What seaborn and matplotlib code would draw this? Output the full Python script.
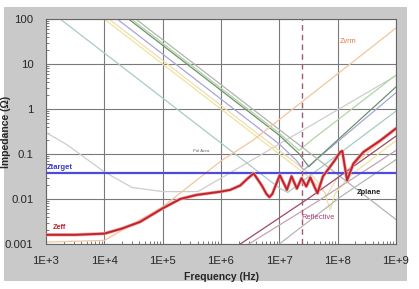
import matplotlib
matplotlib.use("Agg")
import matplotlib.pyplot as plt
import matplotlib.patches as mpatches
import seaborn as sns
import pandas as pd

# ---------------- data ----------------
zeff_f = [1e3, 3.2e3, 1e4, 2e4, 4.1e4, 1e5, 2e5, 3.8e5, 1e6, 1.45e6, 2.14e6, 2.82e6, 3.63e6,
          5.0e6, 6.0e6, 6.76e6, 7.6e6, 8.9e6, 1.02e7, 1.35e7, 1.62e7, 2.0e7, 2.4e7, 2.9e7,
          3.4e7, 4.5e7, 5.6e7, 7.4e7, 9.1e7, 1.1e8, 1.2e8, 1.45e8, 1.86e8, 2.75e8, 5.4e8, 1e9]
zeff_z = [0.0016, 0.0016, 0.0017, 0.0022, 0.0031, 0.0062, 0.010, 0.0123, 0.0146, 0.016, 0.020,
          0.028, 0.037, 0.020, 0.013, 0.011, 0.013, 0.022, 0.034, 0.016, 0.032, 0.017, 0.029,
          0.019, 0.030, 0.0134, 0.032, 0.052, 0.075, 0.11, 0.117, 0.026, 0.061, 0.11, 0.20, 0.37]

ztarget = 0.038
marker_freq = 2.4e7

zvrm_f = [1e3, 1e4, 1e5, 1e6, 3.5e6, 1e9]
zvrm_z = [0.0011, 0.0012, 0.0067, 0.07, 0.2, 63]

bulk_f = [1e3, 2.3e3, 1e4, 3e4, 1e5, 4e5, 1e6, 1e7, 1e8, 1e9]
bulk_z = [0.3, 0.16, 0.04, 0.018, 0.0146, 0.0146, 0.029, 0.167, 0.96, 5.5]

capa_f = [1.75e3, 1e7, 1.4e7, 2e7, 1e9]
capa_z = [100, 0.0175, 0.014, 0.02, 0.9]

capb_f = [1e4, 3e7, 6e7, 7.4e7, 9e7, 1.5e8, 1e9]
capb_z = [100, 0.033, 0.014, 0.0057, 0.013, 0.03, 0.2]

capc_f = [1.2e4, 4e7, 6.5e7, 1e8, 1e9]
capc_z = [100, 0.03, 0.012, 0.03, 0.35]

capd_f = [1.66e4, 1e7, 2e7, 2.6e7, 3.5e7, 1e9]
capd_z = [100, 0.166, 0.07, 0.044, 0.06, 2.3]

cape_f = [2.6e4, 1e7, 2.2e7, 3.2e7, 4.5e7, 1e9]
cape_z = [100, 0.26, 0.1, 0.052, 0.08, 3.1]

capf_f = [2.9e4, 1e7, 1.6e7, 2.2e7, 3.5e7, 1e9]
capf_z = [100, 0.29, 0.17, 0.12, 0.2, 5.7]

zplane_f = [3.46e4, 1e9]
zplane_z = [100, 0.0035]

refl_f = [2.14e6, 3.4e7, 1e9]
refl_z = [0.001, 0.011, 0.25]

refl2_f = [3e6, 4e7, 1e9]
refl2_z = [0.001, 0.008, 0.12]

low_f = [1e7, 1.1e8, 1e9]
low_z = [0.001, 0.011, 0.075]

x_ticks = [1e3, 1e4, 1e5, 1e6, 1e7, 1e8, 1e9]
x_ticklabels = ["1E+3", "1E+4", "1E+5", "1E+6", "1E+7", "1E+8", "1E+9"]
y_ticks = [0.001, 0.01, 0.1, 1, 10, 100]
y_ticklabels = ["0.001", "0.01", "0.1", "1", "10", "100"]

# ---------------- plot ----------------
sns.set_theme(style="white")
plt.rcParams['font.family'] = ['Liberation Sans', 'DejaVu Sans']

fig = plt.figure(figsize=(4.19, 2.89), dpi=100)
fig.patch.set_facecolor("white")
# gray panel behind everything
bg = fig.add_axes([0, 0, 1, 1], zorder=-5)
bg.set_axis_off()
bg.set_xlim(0, 419)
bg.set_ylim(289, 0)
bg.add_patch(mpatches.Rectangle((4, 7), 403, 274, facecolor="#c9c9c9", edgecolor="none"))

ax = fig.add_axes([46 / 419, 1 - 244 / 289, 350 / 419, 225 / 289], zorder=1)
ax.set_facecolor("white")

faint = [
    (bulk_f, bulk_z, "#cdcdcd"),
    (capa_f, capa_z, "#a9cbc5"),
    (capb_f, capb_z, "#ece49c"),
    (capc_f, capc_z, "#f0dcb4"),
    (capd_f, capd_z, "#a6a6dc"),
    (capf_f, capf_z, "#b2d6a6"),
    (cape_f, cape_z, "#6c926c"),
    (zplane_f, zplane_z, "#b3b3b3"),
    (refl2_f, refl2_z, "#c4a4b4"),
    (low_f, low_z, "#b6b6b6"),
    (refl_f, refl_z, "#9a4a68"),
    (zvrm_f, zvrm_z, "#f2c69a"),
]
for fx, fz, col in faint:
    d = pd.DataFrame({"f": fx, "z": fz})
    sns.lineplot(data=d, x="f", y="z", ax=ax, color=col, lw=0.9, estimator=None, zorder=2)

ax.axhline(ztarget, color="#4b4be0", lw=1.6, zorder=3)
ax.axvline(marker_freq, color="#a05a78", lw=1.0, ls=(0, (4, 3)), zorder=3)

dz = pd.DataFrame({"f": zeff_f, "z": zeff_z})
sns.lineplot(data=dz, x="f", y="z", ax=ax, color="#f0a0a0", lw=2.4, estimator=None, zorder=4)
sns.lineplot(data=dz, x="f", y="z", ax=ax, color="#c0242c", lw=1.4, estimator=None, zorder=5)

ax.set_xscale("log")
ax.set_yscale("log")
ax.set_xlim(1e3, 1e9)
ax.set_ylim(1e-3, 100)
ax.set_xticks(x_ticks)
ax.set_xticklabels(x_ticklabels, fontsize=8.2)
ax.set_yticks(y_ticks)
ax.set_yticklabels(y_ticklabels, fontsize=8.2)
ax.tick_params(axis="both", which="major", length=3, width=0.8, color="#555555",
               direction="out", pad=6)
ax.tick_params(axis="both", which="minor", length=2.5, width=0.6, color="#666666",
               direction="in", bottom=True, left=True)
ax.grid(True, which="major", color="#7a7a7a", lw=0.8)
ax.grid(False, which="minor")
for s in ax.spines.values():
    s.set_color("#666666")
    s.set_linewidth(0.8)

ax.set_xlabel("Frequency (Hz)", fontsize=7.5, fontweight="bold")
ax.xaxis.set_label_coords(0.5, -(272 - 244) / 225, transform=ax.transAxes)
ax.set_ylabel("Impedance (Ω)", fontsize=7.5, fontweight="bold")
ax.yaxis.set_label_coords(-(46 - 11) / 350, 0.5, transform=ax.transAxes)

# annotations
ax.text(1.05e3, ztarget * 1.1, "Ztarget", color="#3b3bc8", fontsize=5.5,
        fontweight="bold", va="bottom", ha="left", zorder=6)
ax.text(1.3e3, 0.0019, "Zeff", color="#c0242c", fontsize=5.2, fontweight="bold",
        va="bottom", ha="left", zorder=6)
ax.text(1.1e8, 31, "Zvrm", color="#e07a3a", fontsize=5.2, va="center", ha="left", zorder=6)
ax.text(2.1e8, 0.0136, "Zplane", color="#222222", fontsize=5.4, fontweight="bold",
        va="center", ha="left", zorder=6)
ax.text(4.7e7, 0.0038, "Reflective", color="#b03a78", fontsize=5.4, va="center",
        ha="center", zorder=6)
ax.text(3.3e5, 0.103, "Pol Area", color="#666666", fontsize=3.2, va="bottom",
        ha="left", zorder=6)

fig.savefig("out.png", dpi=100, facecolor="white")
